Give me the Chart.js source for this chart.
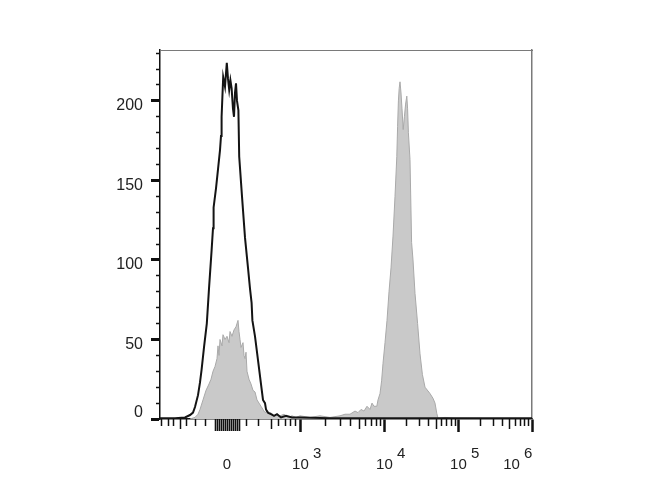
<!DOCTYPE html>
<html>
<head>
<meta charset="utf-8">
<script src="https://cdn.jsdelivr.net/npm/chart.js@4.4.0/dist/chart.umd.min.js"></script>
<style>
  html, body { margin: 0; padding: 0; background: #fff; }
  canvas { display: block; }
</style>
</head>
<body>
<canvas id="histo" width="670" height="500"></canvas>
<script>
// x values are display channels of the biexponential axis (0 .. 930)
const controlChannel = [0, 37.5, 62.5, 75, 82.5, 87.5, 95, 100, 104, 110, 117, 122.5, 129, 132.5, 134, 140, 145, 150,
  152.5, 154, 158, 162.5, 167, 170, 173, 176, 179, 182.5, 185, 187.5, 190, 192.5, 196, 198, 205, 212.5, 220, 225,
  229, 231, 237.5, 245, 252.5, 257.5, 262.5, 265, 270, 277.5, 285, 292.5, 302.5, 315, 330, 350, 425, 930];
const controlCount = [0.5, 0.5, 1, 2.5, 4, 7.5, 15, 23, 31, 45, 60, 82, 106, 120, 133, 145, 157, 169,
  178, 190, 215, 209, 224, 214, 207, 213, 208, 195, 190, 205, 211, 200, 194, 165, 140, 114, 95, 82,
  73, 62, 52, 37, 22, 12, 10, 6, 4, 3, 2, 3, 1, 2, 1, 1, 0.5, 0.5];

const stainedChannel = [75, 87.5, 95, 100, 107.5, 115, 122.5, 127.5, 132.5, 137.5, 142.5, 145, 147.5, 150, 155,
  157.5, 162.5, 167.5, 172.5, 175, 180, 185, 190, 195, 197.5, 200, 202.5, 207.5, 210, 212.5, 215, 217.5, 222.5,
  227.5, 232.5, 237.5, 242.5, 247.5, 252.5, 257.5, 262.5, 267.5, 272.5, 277.5, 285, 292.5, 300, 310, 320, 330,
  340, 350, 375, 400, 425, 450, 462.5, 475, 487.5, 495, 502.5, 510, 517.5, 525, 530, 535, 542, 545, 550, 554,
  557.5, 562.5, 567.5, 572.5, 577.5, 582.5, 587.5, 592, 594, 596, 598, 600, 602.5, 605, 608, 611, 614, 617, 619,
  621, 625, 629, 632.5, 637.5, 644, 650, 656, 662.5, 675, 682.5, 687.5, 692, 695, 712.5, 737.5, 930];
const stainedCount = [0, 1, 3, 6, 12, 18, 22, 25, 30, 33, 38, 46, 40, 50, 46,
  53, 50, 52, 48, 55, 52, 56, 58, 62, 55, 50, 45, 48, 40, 38, 42, 30, 25,
  22, 18, 17, 12, 10, 8, 6, 4, 5, 3, 4, 2, 3, 2, 3, 1, 2,
  1, 2, 1, 2, 1, 2, 3, 3, 5, 4, 6, 5, 8, 6, 10, 8, 8, 12, 16, 24,
  35, 48, 62, 80, 95, 115, 140, 165, 184, 200, 208, 212, 205, 195, 182, 190, 198, 203, 195,
  180, 163, 111, 100, 79, 60, 41, 28, 20, 16, 13, 10, 3.5, 0.5, 1, 0.5, 0];

const yMajorTicks = [0, 50, 100, 150, 200];
const yMinorTicks = [10, 20, 30, 40, 60, 70, 80, 90, 110, 120, 130, 140, 160, 170, 180, 190, 210, 220, 230];

const decadeChannels = [351, 561, 746, 930];          // 10^3, 10^4, 10^5, 10^6
const linearMinor = [4, 21, 33, 67, 88, 113, 217, 246, 296, 313, 325, 338];
const linearMid = [50, 279];
const zeroCluster = [138, 143, 148, 153, 158, 163, 168, 173, 178, 183, 188, 193, 198];

const xLabelChannels = [167, 351, 561, 746, 879];
const xLabelBase = ['0', '10', '10', '10', '10'];
const xLabelExp = ['', '3', '4', '5', '6'];

const X_MAX = 930, Y_MAX = 232;

// minor ticks inside each decade sit at log10(2..9)
const decadeMinor = [], decadeMid = [];
for (let d = 0; d < decadeChannels.length - 1; d++) {
    const a = decadeChannels[d], b = decadeChannels[d + 1];
    for (let k = 2; k <= 9; k++) {
        const c = a + (b - a) * Math.log10(k);
        (k === 5 ? decadeMid : decadeMinor).push(c);
    }
}

Chart.defaults.font.family = '"Liberation Sans", Arial, sans-serif';
Chart.defaults.color = '#222';

function fixedTicks(list) {
    return scale => { scale.ticks = list.map(v => ({ value: v })); };
}

// an axis that only draws tick marks, laid on top of the main one
function markAxis(position, list, len, width, weight) {
    const horiz = position === 'bottom' || position === 'top';
    return {
        type: 'linear',
        position: position,
        weight: weight,
        min: 0,
        max: horiz ? X_MAX : Y_MAX,
        afterBuildTicks: fixedTicks(list),
        afterFit: s => { if (horiz) s.height = 0; else s.width = 0; },
        ticks: { display: false, autoSkip: false },
        grid: { drawOnChartArea: false, tickLength: len, tickWidth: width, tickColor: '#111' },
        border: { display: false }
    };
}

const scales = {
    x: Object.assign(markAxis('bottom', decadeChannels, 13, 2.5, 0), {
        border: { display: true, color: '#111', width: 1.5 }
    }),
    xMid: markAxis('bottom', linearMid.concat(decadeMid), 10, 1.5, 0),
    xMinor: markAxis('bottom', linearMinor.concat(decadeMinor), 7, 1.5, 0),
    xZero: markAxis('bottom', zeroCluster, 12, 1.6, 0),
    xLab: {
        type: 'linear',
        position: 'bottom',
        weight: 10,
        min: 0,
        max: X_MAX,
        afterBuildTicks: fixedTicks(xLabelChannels),
        afterFit: s => { s.height = 50; },
        ticks: {
            autoSkip: false,
            maxRotation: 0,
            padding: 29,
            color: '#222',
            font: { size: 15, lineHeight: 0.75 },
            callback: (v, i) => [xLabelExp[i] ? '        ' + xLabelExp[i] : '', xLabelBase[i]]
        },
        grid: { display: false, drawTicks: false },
        border: { display: false }
    },
    y: Object.assign(markAxis('left', yMajorTicks, 9, 3, 10), {
        afterFit: s => { s.width = 60; },
        ticks: {
            display: true,
            autoSkip: false,
            padding: 8,
            labelOffset: 5,
            color: '#222',
            font: { size: 16 },
            callback: v => (v === 0 ? '' : String(v))
        },
        border: { display: true, color: '#111', width: 1.5 }
    }),
    yMinor: markAxis('left', yMinorTicks, 4, 1.5, 0),
    // the "0" label sits a little above its tick; mirrored so it is not clipped by the zero-width box
    yZero: {
        type: 'linear',
        position: 'left',
        weight: 0,
        min: 0,
        max: Y_MAX,
        afterBuildTicks: fixedTicks([0]),
        afterFit: s => { s.width = 0; },
        ticks: { autoSkip: false, mirror: true, padding: -26, labelOffset: -6, color: '#222', font: { size: 16 } },
        grid: { display: false, drawTicks: false },
        border: { display: false }
    },
    xTop: {
        type: 'linear', position: 'top', min: 0, max: X_MAX,
        afterFit: s => { s.height = 0; },
        ticks: { display: false },
        grid: { display: false },
        border: { display: true, color: '#7a7a7a', width: 1 }
    },
    yRight: {
        type: 'linear', position: 'right', min: 0, max: Y_MAX,
        afterFit: s => { s.width = 0; },
        ticks: { display: false },
        grid: { display: false },
        border: { display: true, color: '#7a7a7a', width: 1.5 }
    }
};

new Chart(document.getElementById('histo').getContext('2d'), {
    type: 'line',
    data: {
        datasets: [{
            label: 'Control',
            data: controlChannel.map((c, i) => ({ x: c, y: controlCount[i] })),
            borderColor: '#141414',
            borderWidth: 2,
            pointRadius: 0,
            tension: 0,
            fill: false
        }, {
            label: 'Stained',
            data: stainedChannel.map((c, i) => ({ x: c, y: stainedCount[i] })),
            borderColor: '#a9a9a9',
            backgroundColor: '#c9c9c9',
            borderWidth: 1,
            pointRadius: 0,
            tension: 0,
            fill: 'origin'
        }]
    },
    options: {
        responsive: false,
        animation: false,
        devicePixelRatio: 1,
        layout: { padding: { left: 100, right: 138, top: 50, bottom: 31 } },
        plugins: { legend: { display: false }, tooltip: { enabled: false } },
        scales: scales
    }
});
</script>
</body>
</html>
